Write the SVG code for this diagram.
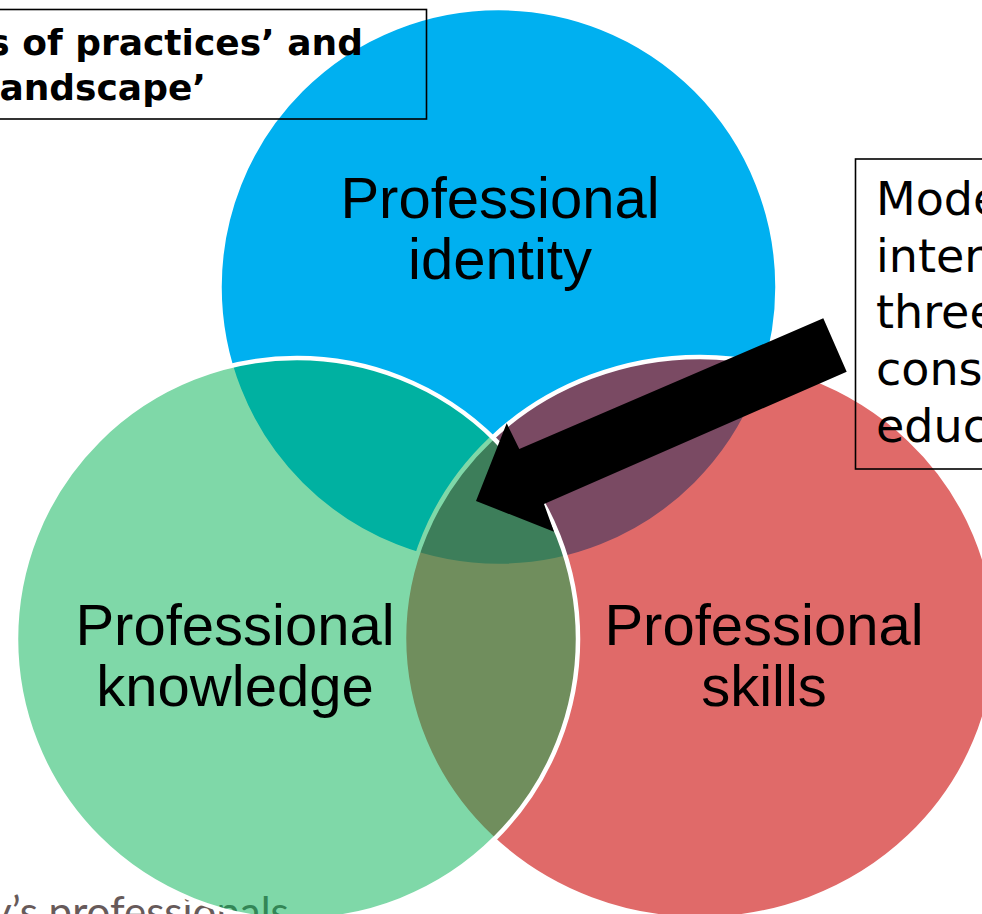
<svg xmlns="http://www.w3.org/2000/svg" width="982" height="914" viewBox="0 0 982 914">
<style>
.lbl{font-family:"Liberation Sans",Arial,sans-serif;font-size:58px;fill:#000;text-anchor:middle}
.ring{stroke:#fff;stroke-width:4.5}
.box{fill:none;stroke:#000;stroke-width:1.6}
.boxtxt{font-family:"DejaVu Sans",Verdana,sans-serif;fill:#000}
</style>
<rect x="0" y="0" width="982" height="914" fill="#fff"/>
<text x="-10" y="927" font-family="Lato,'Open Sans',sans-serif" font-size="42" fill="#675a5a">y’s professionals</text>
<g id="node-identity">
<circle class="ring" cx="498.5" cy="287" r="279" fill="#00B0F0"/>
</g>
<g id="node-skills">
<ellipse class="ring" cx="700" cy="638" rx="296" ry="281" fill="rgb(203,7,5)" fill-opacity="0.6"/>
</g>
<g id="node-knowledge">
<circle class="ring" cx="297" cy="639" r="281" fill="rgb(0,177,81)" fill-opacity="0.5"/>
</g>
<g id="labels">
<text class="lbl" x="500" y="218">Professional</text>
<text class="lbl" x="500" y="279">identity</text>
<text class="lbl" x="235" y="645">Professional</text>
<text class="lbl" x="235" y="706">knowledge</text>
<text class="lbl" x="764" y="645">Professional</text>
<text class="lbl" x="764" y="706">skills</text>
</g>
<g id="connectors">
<polygon points="823.3,318.3 846.7,371.7 544,504 554,531.7 476,501 506.7,423.3 519.3,449" fill="#000"/>
</g>
<g id="note-communities">
<rect class="box" x="-4" y="9.5" width="430.5" height="109.5"/>
<text class="boxtxt" font-size="36" font-weight="bold" text-anchor="end" x="363" y="55">s of practices’ and</text>
<text class="boxtxt" font-size="36" font-weight="bold" text-anchor="end" x="206" y="100">andscape’</text>
</g>
<g id="note-model">
<rect class="box" x="855.5" y="159" width="200" height="310"/>
<text class="boxtxt" font-size="46" x="876" y="215">Mode</text>
<text class="boxtxt" font-size="46" x="876" y="272">inter</text>
<text class="boxtxt" font-size="46" x="876" y="328">three</text>
<text class="boxtxt" font-size="46" x="876" y="385">cons</text>
<text class="boxtxt" font-size="46" x="876" y="442">educ</text>
</g>
</svg>
